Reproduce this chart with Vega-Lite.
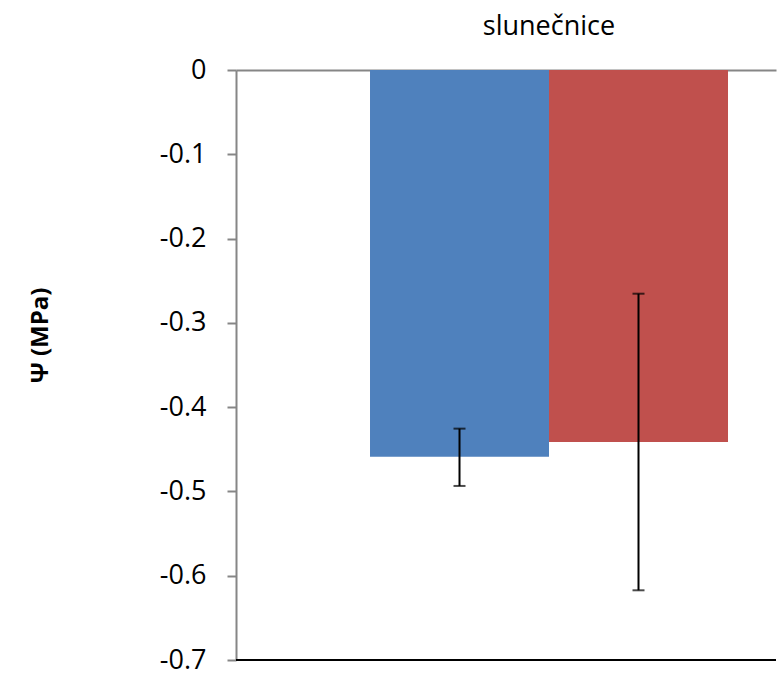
{
  "$schema": "https://vega.github.io/schema/vega-lite/v6.json",
  "width": 540,
  "height": 590,
  "autosize": "none",
  "padding": {"left": 236, "top": 70, "right": 3, "bottom": 26},
  "background": "white",
  "config": {"view": {"stroke": null}, "font": "Open Sans"},
  "data": {
    "values": [
      {"plant": "slunečnice", "series": "1", "value": -0.459, "lower": -0.4935, "upper": -0.4255},
      {"plant": "slunečnice", "series": "2", "value": -0.4413, "lower": -0.6173, "upper": -0.2654}
    ]
  },
  "layer": [
    {
      "mark": {"type": "bar"},
      "encoding": {
        "x": {
          "field": "plant", "type": "nominal",
          "scale": {"paddingInner": 0, "paddingOuter": 0.2542, "align": 0.7363},
          "axis": {"orient": "top", "title": null, "ticks": false, "tickSize": 0, "labelPadding": 30, "labelFontSize": 27, "labelFont": "Open Sans", "labelColor": "black", "labelAngle": 0, "domainColor": "#868686", "domainWidth": 2}
        },
        "xOffset": {"field": "series", "type": "nominal", "scale": {"paddingInner": 0, "paddingOuter": 0}},
        "y": {
          "field": "value", "type": "quantitative",
          "scale": {"domain": [-0.7, 0], "nice": false, "zero": false},
          "axis": {"title": "Ψ (MPa)", "values": [0, -0.1, -0.2, -0.3, -0.4, -0.5, -0.6, -0.7], "labelExpr": "'' + datum.value", "grid": false, "domainColor": "#868686", "domainWidth": 2, "tickColor": "#868686", "tickWidth": 2, "tickSize": 9, "labelPadding": 21, "labelFontSize": 27, "labelFont": "Open Sans", "labelColor": "black", "titleFont": "Open Sans", "titleFontSize": 24, "titleFontWeight": "bold", "titleColor": "black", "titleX": -196, "titleY": 265, "titleAngle": -90, "titleBaseline": "middle", "titleAlign": "center"}
        },
        "color": {"field": "series", "type": "nominal", "scale": {"range": ["#4F81BD", "#C0504D"]}, "legend": null}
      }
    },
    {
      "mark": {"type": "rule", "color": "black", "strokeWidth": 2},
      "encoding": {
        "x": {"field": "plant", "type": "nominal"},
        "xOffset": {"field": "series", "type": "nominal"},
        "y": {"field": "lower", "type": "quantitative"},
        "y2": {"field": "upper"}
      }
    },
    {
      "mark": {"type": "tick", "color": "black", "size": 12, "thickness": 2},
      "encoding": {
        "x": {"field": "plant", "type": "nominal"},
        "xOffset": {"field": "series", "type": "nominal"},
        "y": {"field": "lower", "type": "quantitative"}
      }
    },
    {
      "mark": {"type": "tick", "color": "black", "size": 12, "thickness": 2},
      "encoding": {
        "x": {"field": "plant", "type": "nominal"},
        "xOffset": {"field": "series", "type": "nominal"},
        "y": {"field": "upper", "type": "quantitative"}
      }
    },
    {
      "mark": {"type": "rule", "color": "black", "strokeWidth": 2},
      "encoding": {"y": {"datum": -0.7}}
    }
  ]
}
